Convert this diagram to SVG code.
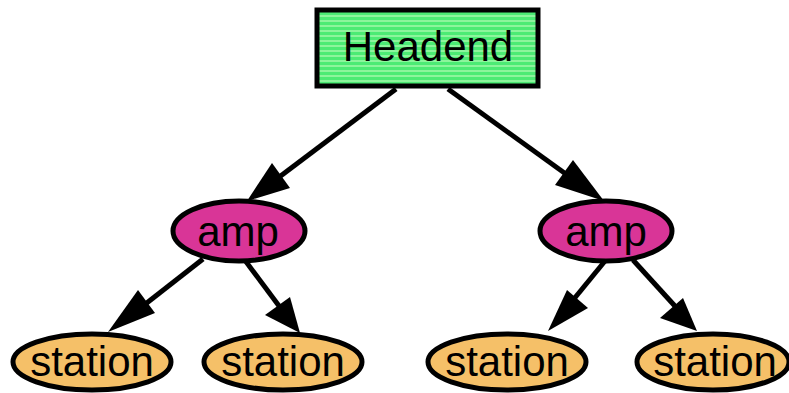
<svg xmlns="http://www.w3.org/2000/svg" width="789" height="393" viewBox="0 0 789 393">
<style>
.lbl{font-family:"Liberation Sans",Arial,sans-serif;font-size:42px;text-anchor:middle;fill:#000}
.edge{stroke:#000;stroke-width:5;fill:none}
.amp{fill:#d93597;stroke:#000;stroke-width:5}
.sta{fill:#f5c068;stroke:#000;stroke-width:5}
</style>
<defs>
<pattern id="stripes" width="10" height="5" patternUnits="userSpaceOnUse">
<rect width="10" height="5" fill="#4ceb74"/>
<rect width="10" height="2" fill="#8cf59c"/>
</pattern>
</defs>
<g id="connectors">
<line class="edge" x1="396" y1="89" x2="262" y2="190"/>
<path d="M247,201 L272,163 L290,188 Z"/>
<line class="edge" x1="448" y1="89" x2="588" y2="190"/>
<path d="M604,201 L573,160 L555,185 Z"/>
<line class="edge" x1="203" y1="259" x2="125" y2="320"/>
<path d="M108,332 L138,290 L155,313 Z"/>
<line class="edge" x1="244" y1="259" x2="288" y2="318"/>
<path d="M300,333 L290,297 L265,315 Z"/>
<line class="edge" x1="605" y1="261" x2="560" y2="316"/>
<path d="M548,331 L567,290 L588,308 Z"/>
<line class="edge" x1="633" y1="260" x2="684" y2="316"/>
<path d="M697,331 L683,298 L660,318 Z"/>
</g>
<g id="headend">
<rect x="317" y="10" width="221" height="76" fill="url(#stripes)" stroke="#000" stroke-width="5"/>
<text class="lbl" x="428" y="61">Headend</text>
</g>
<g id="amp1">
<ellipse class="amp" cx="239" cy="231" rx="66" ry="30"/>
<text class="lbl" x="238" y="246">amp</text>
</g>
<g id="amp2">
<ellipse class="amp" cx="606" cy="231" rx="66" ry="30"/>
<text class="lbl" x="606" y="246">amp</text>
</g>
<g id="station1">
<ellipse class="sta" cx="92" cy="362" rx="79" ry="28"/>
<text class="lbl" x="92" y="376">station</text>
</g>
<g id="station2">
<ellipse class="sta" cx="283" cy="362" rx="79" ry="28"/>
<text class="lbl" x="283" y="376">station</text>
</g>
<g id="station3">
<ellipse class="sta" cx="507" cy="362" rx="79" ry="28"/>
<text class="lbl" x="507" y="376">station</text>
</g>
<g id="station4">
<ellipse class="sta" cx="713" cy="362" rx="76" ry="28"/>
<text class="lbl" x="715" y="376">station</text>
</g>
</svg>
